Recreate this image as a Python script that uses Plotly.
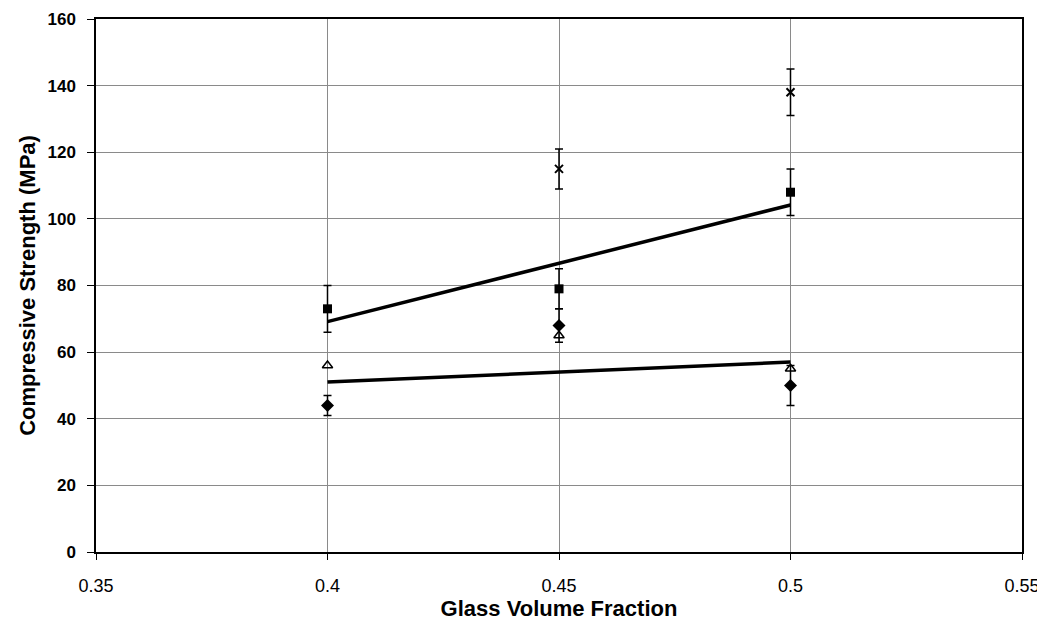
import numpy as np
import plotly.graph_objects as go

x_vals = [0.40, 0.45, 0.50]
diamond_vals = [44, 68, 50]
diamond_err = [3, 5, 6]
square_vals = [73, 79, 108]
square_err = [7, 6, 7]
triangle_vals = [56, 65, 55]
cross_vals = [None, 115, 138]
cross_err = [0, 6, 7]

x_ticks = [0.35, 0.4, 0.45, 0.5, 0.55]
y_ticks = [0, 20, 40, 60, 80, 100, 120, 140, 160]

fig = go.Figure()

def trend(yv):
    p = np.polyfit(x_vals, yv, 1)
    xs = [x_vals[0], x_vals[-1]]
    return xs, [p[0] * v + p[1] for v in xs]

for yv in (square_vals, diamond_vals):
    tx, ty = trend(yv)
    fig.add_trace(go.Scatter(x=tx, y=ty, mode="lines",
                             line=dict(color="black", width=3.5), showlegend=False))

eb = dict(type="data", visible=True, color="black", thickness=1.5, width=4)

fig.add_trace(go.Scatter(x=x_vals, y=diamond_vals, mode="markers",
                         error_y=dict(array=diamond_err, **eb),
                         marker=dict(symbol="diamond", size=10, color="black"),
                         showlegend=False))
fig.add_trace(go.Scatter(x=x_vals, y=square_vals, mode="markers",
                         error_y=dict(array=square_err, **eb),
                         marker=dict(symbol="square", size=9, color="black"),
                         showlegend=False))
fig.add_trace(go.Scatter(x=x_vals, y=triangle_vals, mode="markers",
                         marker=dict(symbol="triangle-up-open", size=9, color="black",
                                     line=dict(width=1.5)),
                         showlegend=False))
fig.add_trace(go.Scatter(x=x_vals, y=cross_vals, mode="markers",
                         error_y=dict(array=cross_err, **eb),
                         marker=dict(symbol="x-thin-open", size=8, color="black",
                                     line=dict(width=2, color="black")),
                         showlegend=False))

fig.update_layout(
    width=1037, height=617,
    margin=dict(l=88, r=23, t=11, b=73),
    plot_bgcolor="white", paper_bgcolor="white",
    font=dict(family="Liberation Sans, Arial", color="black"),
)
fig.update_xaxes(
    range=[0.35, 0.55], tickvals=x_ticks, ticktext=[str(v) for v in x_ticks],
    showgrid=True, gridcolor="#8a8a8a", gridwidth=1,
    showline=True, linecolor="black", linewidth=1.5, mirror=True,
    ticks="outside", ticklen=6, tickcolor="black", zeroline=False,
    tickfont=dict(size=18), ticklabelstandoff=11, automargin=False,
    ticklabeloverflow="allow",
    title=dict(text="<b>Glass Volume Fraction</b>", font=dict(size=22), standoff=1),
)
fig.update_yaxes(
    range=[0, 160], tickvals=y_ticks, ticktext=[f"<b>{v}</b>" for v in y_ticks],
    showgrid=True, gridcolor="#8a8a8a", gridwidth=1,
    showline=True, linecolor="black", linewidth=1.5, mirror=True,
    ticks="outside", ticklen=7, tickcolor="black", zeroline=False,
    tickfont=dict(size=17), ticklabelstandoff=8, automargin=False,
    title=dict(text="<b>Compressive Strength (MPa)</b>", font=dict(size=22), standoff=6),
)

fig.write_html("out.html")
